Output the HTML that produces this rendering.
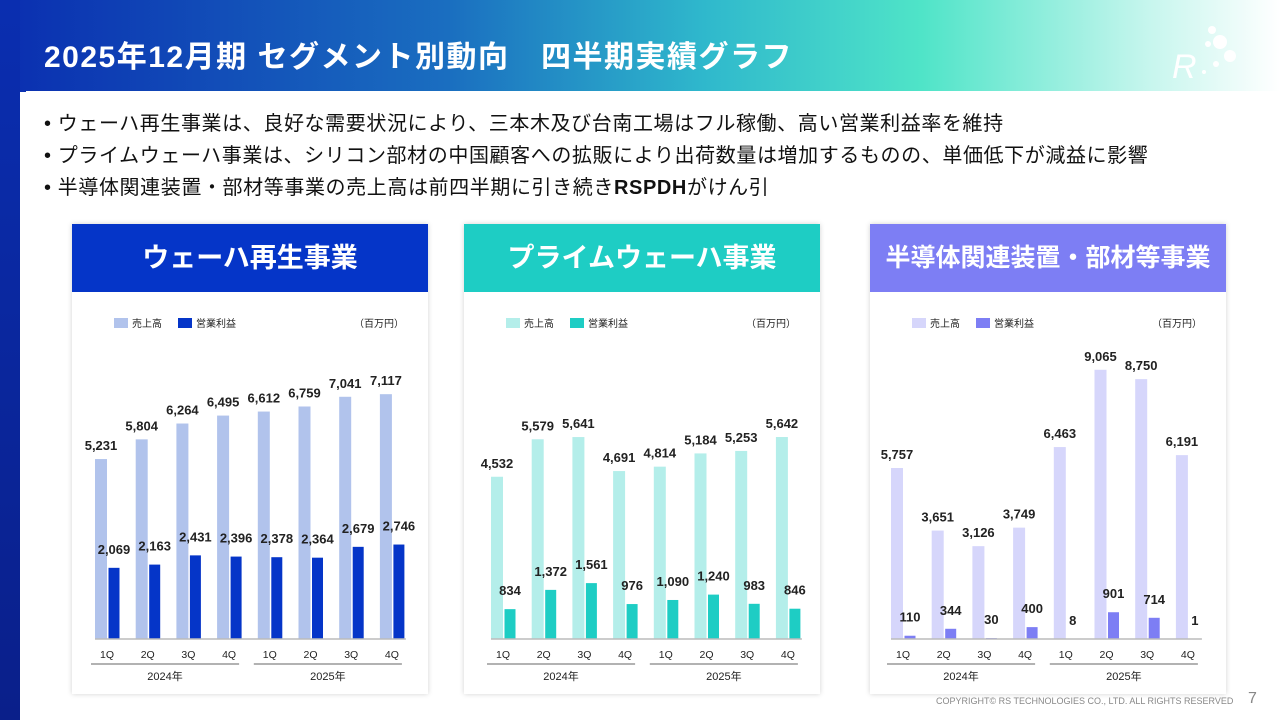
<!DOCTYPE html>
<html><head><meta charset="utf-8">
<style>
body{margin:0;width:1280px;height:720px;overflow:hidden;background:#fff;font-family:"Liberation Sans","Noto Sans CJK JP",sans-serif;position:relative}
#hdr{position:absolute;left:0;top:0;width:1280px;height:92px;background:linear-gradient(90deg,#0a2eb0 0%,#1a6ec0 35%,#2fb8cc 55%,#4fe4c8 72%,#c8f6ee 90%,#ffffff 100%)}
#side{position:absolute;left:0;top:0;width:20px;height:720px;background:linear-gradient(180deg,#0a2eb0,#0a1f8a)}
#white{position:absolute;left:20px;top:91px;width:1260px;height:629px;background:#fff;clip-path:polygon(6px 0,100% 0,100% 100%,0 100%)}
h1{position:absolute;left:44px;top:32px;margin:0;font-size:30px;color:#fff;font-weight:bold;letter-spacing:1.5px;white-space:nowrap}
.bul{position:absolute;left:44px;font-size:20px;color:#111;letter-spacing:0.6px;white-space:nowrap}
.panel{position:absolute;top:224px;width:356px;height:470px;background:#fff;box-shadow:0 0 5px rgba(0,0,0,0.18)}
.ph{height:68px;color:#fff;font-size:27px;font-weight:bold;text-align:center;line-height:68px;white-space:nowrap}
svg text{font-family:"Liberation Sans","Noto Sans CJK JP",sans-serif}
#copy{position:absolute;left:936px;top:696px;font-size:9px;color:#888}
#pg{position:absolute;left:1248px;top:690px;font-size:16px;color:#888}
</style></head><body>
<div id="hdr"></div>
<div id="side"></div>
<div id="white"></div>
<h1>2025年12月期 セグメント別動向　四半期実績グラフ</h1>
<svg style="position:absolute;left:1168px;top:22px" width="80" height="60">
<text x="4" y="56" font-size="34" font-style="italic" font-family="Liberation Serif" fill="#fff">R</text>
<circle cx="44" cy="8" r="4" fill="#fff"/><circle cx="52" cy="20" r="7" fill="#fff"/><circle cx="62" cy="34" r="6" fill="#fff"/><circle cx="40" cy="22" r="3" fill="#fff"/><circle cx="48" cy="42" r="3" fill="#fff"/><circle cx="36" cy="50" r="2" fill="#fff"/>
</svg>
<div class="bul" style="top:107px">• ウェーハ再生事業は、良好な需要状況により、三本木及び台南工場はフル稼働、高い営業利益率を維持</div>
<div class="bul" style="top:139px">• プライムウェーハ事業は、シリコン部材の中国顧客への拡販により出荷数量は増加するものの、単価低下が減益に影響</div>
<div class="bul" style="top:171px">• 半導体関連装置・部材等事業の売上高は前四半期に引き続き<b>RSPDH</b>がけん引</div>

<div class="panel" style="left:72px"><div class="ph" style="background:#0535c8">ウェーハ再生事業</div><svg id="c1" width="356" height="402"></svg></div>
<div class="panel" style="left:464px"><div class="ph" style="background:#1ecdc4">プライムウェーハ事業</div><svg id="c2" width="356" height="402"></svg></div>
<div class="panel" style="left:870px"><div class="ph" style="background:#7d7ef4;font-size:25px">半導体関連装置・部材等事業</div><svg id="c3" width="356" height="402"></svg></div>

<div id="copy">COPYRIGHT© RS TECHNOLOGIES CO., LTD. ALL RIGHTS RESERVED</div>
<div id="pg">7</div>
<script>
const quarters=["1Q","2Q","3Q","4Q","1Q","2Q","3Q","4Q"];
const years=["2024年","2025年"];
const sales1=[5231,5804,6264,6495,6612,6759,7041,7117];
const profit1=[2069,2163,2431,2396,2378,2364,2679,2746];
const sales2=[4532,5579,5641,4691,4814,5184,5253,5642];
const profit2=[834,1372,1561,976,1090,1240,983,846];
const sales3=[5757,3651,3126,3749,6463,9065,8750,6191];
const profit3=[110,344,30,400,8,901,714,1];
const NS="http://www.w3.org/2000/svg";
function mk(p,t,a){const e=document.createElementNS(NS,t);for(const k in a)e.setAttribute(k,a[k]);p.appendChild(e);return e;}
function chart(id,sales,profit,c1,c2,scale,x0){
 const s=document.getElementById(id);
 const base=347;
 const step=40.7;
 const fmt=v=>v.toLocaleString('en-US');
 let r=mk(s,'rect',{x:42,y:26,width:14,height:10,fill:c1});
 
 let t=mk(s,'text',{x:60,y:35,'font-size':10,fill:'#222'});t.textContent='売上高';
 
 r=mk(s,'rect',{x:106,y:26,width:14,height:10,fill:c2});
 
 t=mk(s,'text',{x:124,y:35,'font-size':10,fill:'#222'});t.textContent='営業利益';
 
 t=mk(s,'text',{x:282,y:35,'font-size':10,fill:'#222'});t.textContent='（百万円）';
 
 sales.forEach((v,i)=>{
  const x=x0+i*step,h=v*scale;
  const b=mk(s,'rect',{x:x,y:base-h,width:12,height:h,fill:c1});
  
  const l=mk(s,'text',{x:x+6,y:base-h-9,'font-size':13,'font-weight':'bold','text-anchor':'middle',fill:'#222'});l.textContent=fmt(v);
  
  const pv=profit[i],ph=pv*scale;
  const pb=mk(s,'rect',{x:x+13.5,y:base-ph,width:11,height:ph,fill:c2});
  
  const pl=mk(s,'text',{x:x+19,y:base-Math.max(ph,0)-14,'font-size':13,'font-weight':'bold','text-anchor':'middle',fill:'#222'});pl.textContent=fmt(pv);
  
  const q=mk(s,'text',{x:x+12,y:base+19,'font-size':10.5,'text-anchor':'middle',fill:'#222'});q.textContent=quarters[i];
  
 });
 const ax=mk(s,'line',{x1:x0,x2:x0+7*step+26,y1:base,y2:base,stroke:'#bbb','stroke-width':1.5});
 
 years.forEach((y,k)=>{
  const xs=x0+k*4*step-4,xe=xs+3*step+26;
  const ln=mk(s,'line',{x1:xs,x2:xe,y1:base+25,y2:base+25,stroke:'#666','stroke-width':1});
  
  const yt=mk(s,'text',{x:(xs+xe)/2,y:base+41,'font-size':11,'text-anchor':'middle',fill:'#222'});yt.textContent=y;
  
 });
}
chart('c1',sales1,profit1,'#b1c3ec','#0535c8',0.0344,23);
chart('c2',sales2,profit2,'#b4eeea','#1ecdc4',0.0358,27);
chart('c3',sales3,profit3,'#d6d6fb','#7d7ef4',0.0297,21);
</script>
</body></html>
